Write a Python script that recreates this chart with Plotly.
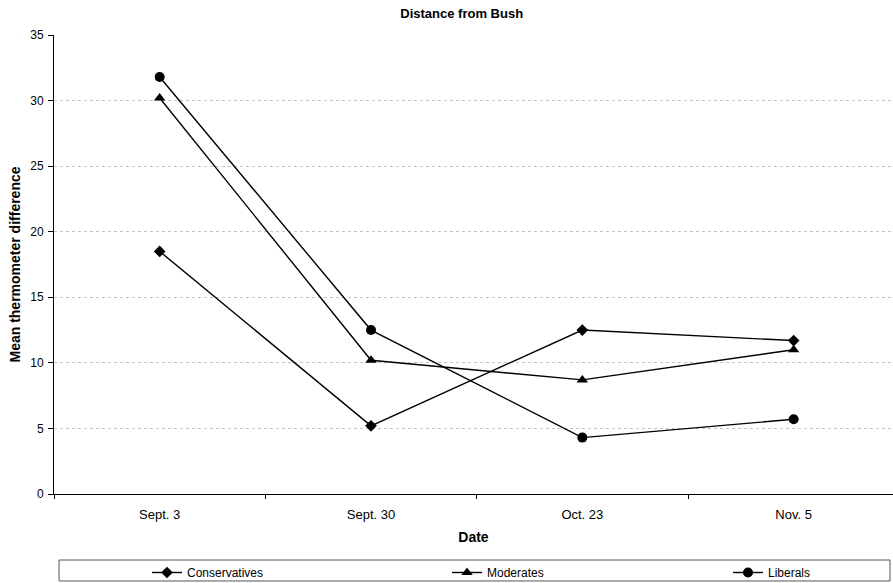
import plotly.graph_objects as go

dates = ["Sept. 3", "Sept. 30", "Oct. 23", "Nov. 5"]
conservatives = [18.5, 5.2, 12.5, 11.7]
moderates = [30.2, 10.2, 8.7, 11.0]
liberals = [31.8, 12.5, 4.3, 5.7]
y_ticks = [0, 5, 10, 15, 20, 25, 30, 35]

FONT = "Liberation Sans, Arial, sans-serif"

fig = go.Figure()
series = [
    ("Conservatives", conservatives, "diamond", 9, "legend"),
    ("Moderates", moderates, "triangle-up", 10, "legend2"),
    ("Liberals", liberals, "circle", 10, "legend3"),
]
for name, vals, sym, sz, lg in series:
    fig.add_trace(go.Scatter(
        x=dates, y=vals, name=name, mode="lines+markers",
        line=dict(color="black", width=1.4),
        marker=dict(symbol=sym, size=sz, color="black"),
        legend=lg,
    ))

fig.add_shape(type="rect", xref="paper", yref="paper",
              x0=0.006, x1=0.9964, y0=-0.1895, y1=-0.1438,
              line=dict(color="#555", width=1), fillcolor="rgba(0,0,0,0)")

def leg(xpix):
    return dict(orientation="h", xref="container", yref="container",
                x=xpix / 893, xanchor="left", y=(583 - 558) / 583, yanchor="top",
                font=dict(size=12, family=FONT), bgcolor="rgba(0,0,0,0)",
                itemwidth=30)

fig.update_layout(
    width=893, height=583,
    margin=dict(l=54, r=0, t=35, b=89, autoexpand=False),
    paper_bgcolor="white", plot_bgcolor="white",
    font=dict(family=FONT, size=12, color="black"),
    title=dict(text="<b>Distance from Bush</b>", x=0.517, xanchor="center",
               y=0.985, yanchor="top", font=dict(size=13, family=FONT)),
    showlegend=True,
    legend=leg(147), legend2=leg(447), legend3=leg(728),
    xaxis=dict(
        type="category", range=[-0.5, 3.47], automargin=False,
        showline=True, linecolor="black", linewidth=1,
        ticks="outside", tickson="boundaries", ticklen=4, tickcolor="black",
        ticklabelstandoff=8,
        showgrid=False, zeroline=False,
        title=dict(text="<b>Date</b>", font=dict(size=14, family=FONT), standoff=11),
        tickfont=dict(size=13),
    ),
    yaxis=dict(
        range=[0, 35], tickvals=y_ticks, automargin=False,
        showline=True, linecolor="black", linewidth=1,
        ticks="outside", ticklen=5, tickcolor="black",
        ticklabelstandoff=2,
        showgrid=True, gridcolor="#c4c4c4", griddash="dot", gridwidth=1,
        zeroline=False,
        title=dict(text="<b>Mean thermometer difference</b>", font=dict(size=14, family=FONT), standoff=6),
        tickfont=dict(size=12),
    ),
)

fig.write_html("out.html")
